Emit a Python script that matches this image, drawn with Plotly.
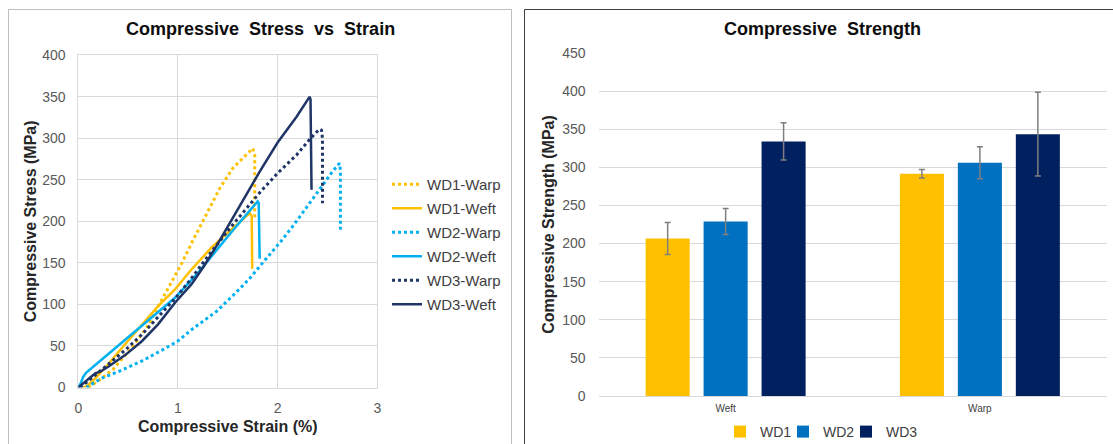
import plotly.graph_objects as go

W, H = 1113, 444

# ---------------- data: stress-strain curves ----------------
wd1_warp_x = [0.10, 0.20, 0.35, 0.55, 0.69, 0.80, 0.90, 1.04, 1.15, 1.29, 1.42, 1.55, 1.69, 1.75, 1.77, 1.77]
wd1_warp_y = [0, 8, 22, 50, 73, 97, 119, 150, 177, 210, 240, 264, 281, 288, 280, 205]

wd1_weft_x = [0.05, 0.10, 0.17, 0.30, 0.47, 0.64, 0.80, 0.97, 1.12, 1.34, 1.52, 1.72, 1.74, 1.745]
wd1_weft_y = [0, 3, 11, 28, 52, 76, 98, 118, 140, 169, 189, 210, 206, 143]

wd2_warp_x = [0.08, 0.15, 0.23, 0.40, 0.64, 0.84, 1.00, 1.14, 1.25, 1.39, 1.57, 1.71, 1.87, 2.04, 2.17,
              2.32, 2.45, 2.55, 2.62, 2.63, 2.63]
wd2_warp_y = [0, 5, 11, 19, 32, 45, 56, 70, 80, 92, 113, 130, 153, 177, 197, 222, 243, 260, 270, 262, 190]

wd2_weft_x = [0, 0.02, 0.05, 0.08, 0.20, 0.30, 0.47, 0.64, 0.80, 0.97, 1.20, 1.39, 1.55, 1.72, 1.80, 1.81, 1.82]
wd2_weft_y = [0, 4, 13, 18, 30, 40, 58, 75, 90, 108, 138, 166, 189, 213, 224, 222, 155]

wd3_warp_x = [0.02, 0.10, 0.20, 0.30, 0.47, 0.64, 0.80, 0.97, 1.12, 1.30, 1.55, 1.72, 1.83, 2.00, 2.19,
              2.33, 2.42, 2.44, 2.45, 2.45]
wd3_warp_y = [0, 8, 17, 27, 45, 64, 85, 107, 129, 158, 196, 220, 236, 258, 280, 300, 311, 310, 300, 222]

wd3_weft_x = [0, 0.05, 0.10, 0.17, 0.22, 0.30, 0.47, 0.64, 0.80, 0.97, 1.14, 1.26, 1.39, 1.52, 1.72, 1.82,
              2.00, 2.19, 2.32, 2.33, 2.34]
wd3_weft_y = [0, 5, 11, 17, 19, 25, 39, 56, 76, 102, 125, 146, 171, 198, 240, 260, 295, 326, 350, 347, 238]

# ---------------- data: compressive strength bars ----------------
directions = ["Weft", "Warp"]
wd1_strength = [206.5, 291.5]
wd1_err = [21, 5.5]
wd2_strength = [229, 306]
wd2_err = [17, 21]
wd3_strength = [334, 343.5]
wd3_err = [24.5, 55]

YELLOW = "#FFC000"
LBLUE = "#00B0F0"
NAVY_LINE = "#1F3566"
BLUE = "#0070C0"
NAVY = "#002060"
FONT = "Liberation Sans, Arial, sans-serif"
TICK_COL = "#595959"
TEXT_COL = "#404040"
GRID = "#D9D9D9"

fig = go.Figure()

curves = [
    ("WD1-Warp", wd1_warp_x, wd1_warp_y, YELLOW, "dot"),
    ("WD1-Weft", wd1_weft_x, wd1_weft_y, YELLOW, "solid"),
    ("WD2-Warp", wd2_warp_x, wd2_warp_y, LBLUE, "dot"),
    ("WD2-Weft", wd2_weft_x, wd2_weft_y, LBLUE, "solid"),
    ("WD3-Warp", wd3_warp_x, wd3_warp_y, NAVY_LINE, "dot"),
    ("WD3-Weft", wd3_weft_x, wd3_weft_y, NAVY_LINE, "solid"),
]
for name, xs, ys, col, dash in curves:
    fig.add_trace(go.Scatter(
        x=xs, y=ys, name=name, mode="lines",
        line=dict(color=col, width=3 if dash == "dot" else 2.5, dash=dash),
        xaxis="x", yaxis="y", legend="legend", legendgroup=name,
    ))

bar_legends = ["legend2", "legend3", "legend4"]
for (name, vals, errs, col), lg in zip([("WD1", wd1_strength, wd1_err, YELLOW),
                                        ("WD2", wd2_strength, wd2_err, BLUE),
                                        ("WD3", wd3_strength, wd3_err, NAVY)], bar_legends):
    fig.add_trace(go.Bar(
        x=directions, y=vals, name=name, marker=dict(color=col, line=dict(width=0)),
        error_y=dict(type="data", array=errs, color="#7F7F7F", thickness=1.5, width=3),
        xaxis="x2", yaxis="y2", legend=lg,
    ))

def px_x(p):
    return p / W

def px_y(p):
    return 1 - p / H

bar_legend_style = dict(orientation="h", xanchor="left", y=px_y(432), yanchor="middle",
                        font=dict(size=14, color=TEXT_COL, family=FONT),
                        bgcolor="rgba(0,0,0,0)", borderwidth=0)

fig.update_layout(
    width=W, height=H,
    margin=dict(l=0, r=0, t=0, b=0, autoexpand=False),
    paper_bgcolor="white", plot_bgcolor="white",
    font=dict(family=FONT, color=TICK_COL, size=14),
    barmode="group", bargap=0.316, bargroupgap=0.24,
    xaxis=dict(domain=[px_x(78.3), px_x(377.3)], range=[0, 3], dtick=1, tick0=0,
               showgrid=True, gridcolor=GRID, gridwidth=1, zeroline=False,
               showline=True, linecolor=GRID, linewidth=1, mirror=True,
               ticks="", ticklabelstandoff=8,
               tickfont=dict(size=14, color=TICK_COL),
               title=dict(text="Compressive Strain (%)", standoff=5,
                          font=dict(size=16, color="#262626", family=FONT, weight="bold")),
               anchor="y", fixedrange=True, automargin=False),
    yaxis=dict(domain=[px_y(387.5), px_y(55.3)], range=[0, 400], dtick=50, tick0=0,
               showgrid=True, gridcolor=GRID, gridwidth=1, zeroline=False,
               showline=True, linecolor=GRID, linewidth=1, mirror=True,
               ticks="", ticklabelstandoff=9,
               tickfont=dict(size=14, color=TICK_COL),
               title=dict(text="Compressive Stress (MPa)", standoff=1,
                          font=dict(size=16, color="#262626", family=FONT, weight="bold")),
               anchor="x", fixedrange=True, automargin=False),
    xaxis2=dict(domain=[px_x(598.5), px_x(1107)], showgrid=False, zeroline=False,
                showline=True, linecolor=GRID, linewidth=1, ticks="",
                ticklabelstandoff=3,
                tickfont=dict(size=10, color=TEXT_COL),
                anchor="y2", fixedrange=True, automargin=False),
    yaxis2=dict(domain=[px_y(396), px_y(53)], range=[0, 450], dtick=50, tick0=0,
                showgrid=True, gridcolor=GRID, gridwidth=1, zeroline=False,
                showline=False, ticks="", ticklabelstandoff=12,
                tickfont=dict(size=14, color=TICK_COL),
                title=dict(text="Compressive Strength (MPa)", standoff=3,
                           font=dict(size=16, color="#262626", family=FONT, weight="bold")),
                anchor="x2", fixedrange=True, automargin=False),
    legend=dict(x=px_x(387), xanchor="left", y=px_y(168), yanchor="top",
                font=dict(size=15, color=TEXT_COL, family=FONT), tracegroupgap=1.5,
                bgcolor="rgba(0,0,0,0)", borderwidth=0, itemwidth=30),
    legend2=dict(x=px_x(720), **bar_legend_style),
    legend3=dict(x=px_x(783), **bar_legend_style),
    legend4=dict(x=px_x(846), **bar_legend_style),
    showlegend=True,
    annotations=[
        dict(text="<b>Compressive  Stress  vs  Strain</b>", x=px_x(260), y=px_y(29),
             xref="paper", yref="paper", xanchor="center", yanchor="middle", showarrow=False,
             font=dict(size=18, color="#0D0D0D", family=FONT)),
        dict(text="<b>Compressive  Strength</b>", x=px_x(822), y=px_y(29),
             xref="paper", yref="paper", xanchor="center", yanchor="middle", showarrow=False,
             font=dict(size=18, color="#0D0D0D", family=FONT)),
    ],
    shapes=[
        dict(type="rect", xref="paper", yref="paper", x0=px_x(8.5), x1=px_x(511.5),
             y0=px_y(460), y1=px_y(9.5), line=dict(color="#BFBFBF", width=1)),
        dict(type="rect", xref="paper", yref="paper", x0=px_x(524.5), x1=px_x(1125),
             y0=px_y(460), y1=px_y(9.5), line=dict(color="#404040", width=1)),
    ],
)

fig.write_html(
    "out.html",
    config={"displayModeBar": False},
    post_script="document.body.style.margin='0px';document.body.style.overflow='hidden';",
)
